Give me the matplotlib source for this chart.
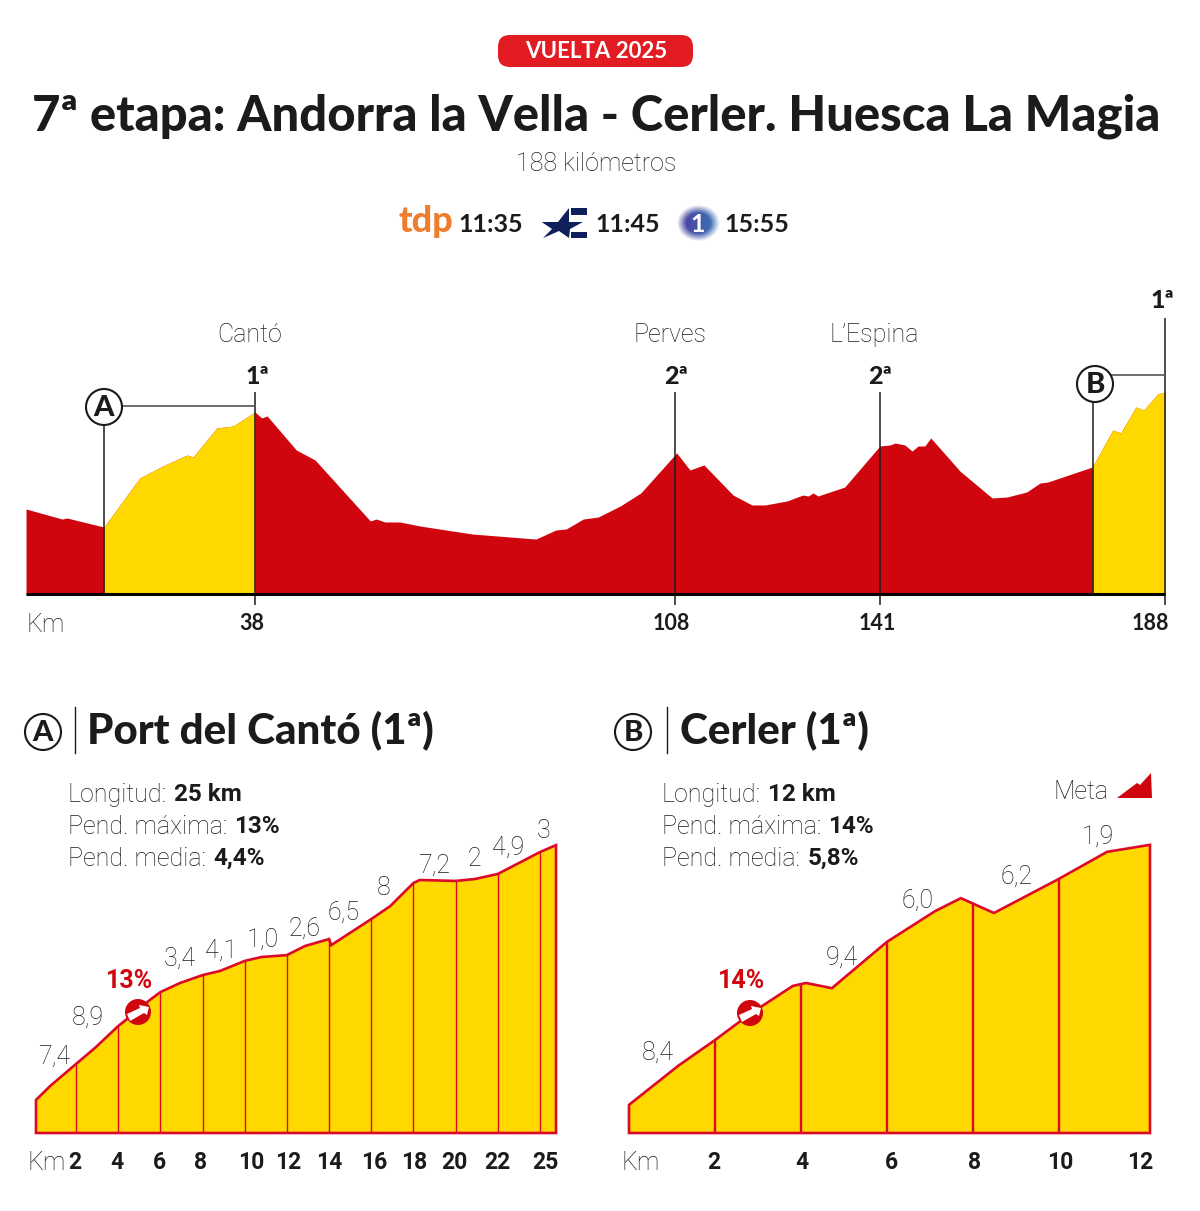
import numpy as np
import matplotlib
matplotlib.use('Agg')
import matplotlib.pyplot as plt
from matplotlib.patches import Circle, Polygon, FancyBboxPatch

# Stage profile (km, metres)
stage_km = [0.25, 6.2, 7.0, 13.1, 19.0, 22.8, 26.8, 27.8, 31.7, 34.4, 38.0, 39.1, 40.0, 44.8, 47.9,
            57.0, 58.0, 59.4, 61.9, 65.2, 73.8, 84.3, 87.6, 89.3, 92.1, 94.6, 98.2, 101.6, 107.5,
            109.7, 112.0, 116.8, 119.9, 122.1, 125.7, 128.3, 129.2, 130.0, 130.8, 135.2, 141.0,
            142.7, 143.5, 145.1, 146.3, 147.3, 148.4, 149.4, 154.2, 159.5, 162.0, 165.2, 167.4,
            168.7, 176.0, 179.4, 180.7, 183.2, 184.5, 186.8, 188.0]
stage_alt = [808, 712, 722, 636, 1102, 1216, 1320, 1302, 1577, 1596, 1729, 1672, 1691, 1368, 1273,
             694, 712, 684, 684, 646, 570, 522, 608, 618, 712, 732, 836, 960, 1340,
             1178, 1226, 940, 846, 846, 884, 940, 931, 960, 931, 1016, 1406,
             1416, 1434, 1416, 1358, 1406, 1406, 1482, 1168, 912, 922, 969, 1054,
             1064, 1206, 1558, 1530, 1776, 1748, 1900, 1919]
climb_a_range = (13.1, 38.0)
climb_b_range = (176.0, 188.0)

pass_km = [38.0, 107.2, 141.0, 188.0]
pass_top = [1919, 1919, 1919, 2622]
pass_tick_labels = ['38', '108', '141', '188']
pass_names = ['Cantó', 'Perves', 'L’Espina']
pass_cats = ['1ª', '2ª', '2ª', '1ª']

# Port del Cantó
a_km = [0.1, 0.77, 2, 2.9, 4, 4.47, 5.5, 6, 6.93, 8, 8.83, 10, 10.8, 12, 12.85, 14, 14.1, 16, 16.9,
        18, 18.3, 20, 20.9, 22, 24, 24.76]
a_alt = [642, 702, 797, 866, 960, 994, 1072, 1106, 1145, 1179, 1197, 1240, 1257, 1265, 1304, 1334,
         1308, 1420, 1476, 1575, 1588, 1584, 1592, 1614, 1708, 1738]
a_grid = [2, 4, 6, 8, 10, 12, 14, 16, 18, 20, 22, 24]
a_grades = ['7,4', '8,9', '3,4', '4,1', '1,0', '2,6', '6,5', '8', '7,2', '2', '4,9', '3']
a_grade_km = [0.96, 2.57, 6.93, 8.87, 10.87, 12.86, 14.7, 16.56, 18.98, 20.87, 22.48, 24.19]
a_grade_alt = [835, 1003, 1257, 1291, 1339, 1386, 1455, 1562, 1657, 1687, 1734, 1807]
a_km_labels = ['2', '4', '6', '8', '10', '12', '14', '16', '18', '20', '22', '25']
a_km_label_x = [75, 117, 159, 201, 251, 288, 329, 374, 414, 454, 497, 545]

# Cerler
b_km = [0, 1.14, 2, 2.81, 3.81, 4, 4.12, 4.72, 6, 7.12, 7.72, 8.49, 10, 11.12, 12.12]
b_alt = [926, 1031, 1101, 1171, 1247, 1252, 1255, 1241, 1366, 1449, 1484, 1444, 1536, 1609, 1628]
b_grid = [2, 4, 6, 8, 10]
b_grades = ['8,4', '9,4', '6,0', '6,2', '1,9']
b_grade_km = [0.67, 4.95, 6.72, 9.02, 10.91]
b_grade_alt = [1071, 1328, 1482, 1547, 1655]
b_km_labels = ['2', '4', '6', '8', '10', '12']
b_km_label_x = [714, 802, 891, 975, 1060, 1140]

RED = '#d0060f'
YELLOW = '#ffd800'
LINE_RED = '#dc0a28'
INK = '#1c1a1a'
W, H = 1200, 1211
BOLD = 'Lato'
LIGHT = 'Roboto'

fig = plt.figure(figsize=(12, 12.11), dpi=100, facecolor='white')


def px_axes(x0, y0, x1, y1):
    ax = fig.add_axes([x0 / W, 1 - y1 / H, (x1 - x0) / W, (y1 - y0) / H])
    ax.axis('off')
    return ax


# Main profile
ax = px_axes(24.5, 300, 1165, 594)
ax.set_xlim(0, 188)
ax.set_ylim(0, 2793)
km = np.array(stage_km)
alt = np.array(stage_alt)
ax.fill_between(km, alt, 0, color=RED, lw=0)
for lo, hi in (climb_a_range, climb_b_range):
    m = (km >= lo) & (km <= hi)
    ax.fill_between(km[m], alt[m], 0, color=YELLOW, lw=0)
ax.vlines(pass_km, -100, pass_top, color=INK, lw=1.1, clip_on=False)
ax.plot([0.25, 188], [0, 0], color='black', lw=2.2, clip_on=False, solid_capstyle='butt')

# Small climb charts
def draw_climb(ax, kms, alts, grid, base, grades, grade_km, grade_alt, grid_lw):
    xs = [kms[0]] + kms + [kms[-1]]
    ys = [base] + alts + [base]
    ax.fill(xs, ys, facecolor=YELLOW, edgecolor=LINE_RED, lw=1.9, clip_on=False, joinstyle='miter')
    ax.vlines(grid, base, np.interp(grid, kms, alts), color=LINE_RED, lw=grid_lw)
    for txt, gx, gy in zip(grades, grade_km, grade_alt):
        ax.annotate(txt, (gx, gy), xytext=(0, -1.5), textcoords='offset points', ha='center', va='center',
                    fontsize=18, color=INK, family=LIGHT, weight='light')


ax_a = px_axes(36, 780, 556, 1133)
ax_a.set_xlim(0.1, 24.76)
ax_a.set_ylim(500, 2018)
draw_climb(ax_a, a_km, a_alt, a_grid, 500, a_grades, a_grade_km, a_grade_alt, 1.0)

ax_b = px_axes(629, 780, 1150, 1133)
ax_b.set_xlim(0, 12.12)
ax_b.set_ylim(850, 1803)
draw_climb(ax_b, b_km, b_alt, b_grid, 850, b_grades, b_grade_km, b_grade_alt, 1.7)

# Overlay in pixel coordinates for the furniture
ov = px_axes(0, 0, W, H)
ov.set_xlim(0, W)
ov.set_ylim(H, 0)


def bold(x, y, s, size, color=INK, ha='center', family=BOLD, weight='bold'):
    if family == LIGHT:
        y += 1.5
    ov.text(x, y, s, fontsize=size, color=color, ha=ha, va='center', family=family, weight=weight)


def light(x, y, s, size=18, ha='center'):
    ov.text(x, y + 2, s, fontsize=size, color=INK, ha=ha, va='center', family=LIGHT, weight='light')


# Header
ov.add_patch(FancyBboxPatch((498, 35), 195, 32, boxstyle='round,pad=0,rounding_size=12',
                            fc='#e31b23', ec='none'))
bold(596, 51, 'VUELTA 2025', 16, color='white')
bold(596, 116, '7ª etapa: Andorra la Vella - Cerler. Huesca La Magia', 35.3, weight='black')
light(596, 162, '188 kilómetros', 18)

# Broadcasters
bold(426, 221, 'tdp', 26, color='#ee7d2d', weight='black')
bold(491, 224, '11:35', 18)
bold(628, 224, '11:45', 18)
bold(757, 224, '15:55', 18)
ov.add_patch(Polygon([(541.7, 222), (558, 222), (569, 208), (569, 222), (583, 222), (570, 229),
                      (569, 238), (559, 231), (543, 238), (552, 229)], fc='#0f1f5c', ec='none'))
for y0, y1, x1 in ((208.3, 215, 587), (231.7, 238.3, 587)):
    ov.add_patch(Polygon([(571, y0), (x1, y0), (x1, y1), (571, y1)], fc='#0f1f5c', ec='none'))
# blurred logo of La 1
yy, xx = np.mgrid[-1.25:1.25:60j, -1.25:1.25:70j]
r = np.sqrt(xx ** 2 + yy ** 2)
rgba = np.zeros((60, 70, 4))
t = (xx + 1) / 2
rgba[..., 0] = 0.30 - 0.06 * t
rgba[..., 1] = 0.24 + 0.22 * t
rgba[..., 2] = 0.62 + 0.10 * t
rgba[..., 3] = np.clip((1.15 - r) / 0.5, 0, 1)
ov.imshow(rgba, extent=(675, 722, 243, 203), aspect='auto', zorder=2)
ov.set_xlim(0, W)
ov.set_ylim(H, 0)
ov.text(698, 225, '1', fontsize=18, color='white', weight='bold', family=BOLD,
        ha='center', va='center', zorder=3)

# Labels of the stage profile
for x, name in zip((250, 670, 874), pass_names):
    light(x, 333, name, 18)
for x, y, cat in zip((257, 676, 880, 1162), (376, 376, 376, 300), pass_cats):
    bold(x, y, cat, 18, weight='black')
light(46, 623, 'Km', 18)
for x, lab in zip((252, 671, 877, 1150), pass_tick_labels):
    bold(x, 623, lab, 15.5)


def badge(x, y, letter, r=18):
    ov.add_patch(Circle((x, y), r, fc='white', ec='#1a1a1a', lw=1.5, zorder=4))
    ov.text(x, y + 1, letter, fontsize=21, weight='black', family=BOLD, color=INK,
            ha='center', va='center', zorder=5)


ov.plot([104, 104], [425, 594], color=INK, lw=1.1)
ov.plot([104, 255], [406, 406], color='#555555', lw=1.2)
badge(104, 407, 'A')
ov.plot([1093, 1093], [400, 594], color=INK, lw=1.1)
ov.plot([1095, 1165], [375, 375], color='#555555', lw=1.2)
badge(1095, 384, 'B')

# Section headers
badge(43, 732, 'A')
ov.plot([75, 75], [707, 753], color=INK, lw=1)
bold(87, 730, 'Port del Cantó (1ª)', 30.3, ha='left', weight='black')
badge(633, 732, 'B')
ov.plot([667, 667], [707, 753], color=INK, lw=1)
bold(680, 730, 'Cerler (1ª)', 30.3, ha='left', weight='black')

# Climb facts
facts = [(793, 'Longitud:', '25 km', 174, '12 km', 768), (825, 'Pend. máxima:', '13%', 234, '14%', 828),
         (857, 'Pend. media:', '4,4%', 213, '5,8%', 808)]
for y, name, va, xa, vb, xb in facts:
    light(68, y, name, 18, ha='left')
    bold(xa, y, va, 17.5, ha='left', family=LIGHT)
    light(662, y, name, 18, ha='left')
    bold(xb, y, vb, 17.5, ha='left', family=LIGHT)

light(1081, 790, 'Meta', 18)
ov.add_patch(Polygon([(1117, 798), (1137, 783), (1140, 785), (1151, 773), (1152, 798)], fc=RED, ec='none'))

# Steepest ramp markers
for cx, cy, label, lx in ((138, 1012, '13%', 130), (750, 1013, '14%', 742)):
    bold(lx, 980, label, 18, color=RED, family=LIGHT)
    ov.add_patch(Circle((cx, cy), 13, fc=RED, ec='none', zorder=4))
    ov.add_patch(Polygon([(cx - 11, cy + 2), (cx + 2, cy - 4), (cx + 1, cy - 7), (cx + 11, cy - 5),
                          (cx + 9, cy + 3), (cx + 6, cy + 1), (cx - 8, cy + 9)],
                         fc='white', ec='none', zorder=5))

# Km labels below the climbs
light(47, 1161, 'Km', 18)
for x, lab in zip(a_km_label_x, a_km_labels):
    bold(x, 1161, lab, 16.5, family=LIGHT)
light(641, 1161, 'Km', 18)
for x, lab in zip(b_km_label_x, b_km_labels):
    bold(x, 1161, lab, 16.5, family=LIGHT)

fig.savefig('out.png', dpi=100, facecolor='white')
